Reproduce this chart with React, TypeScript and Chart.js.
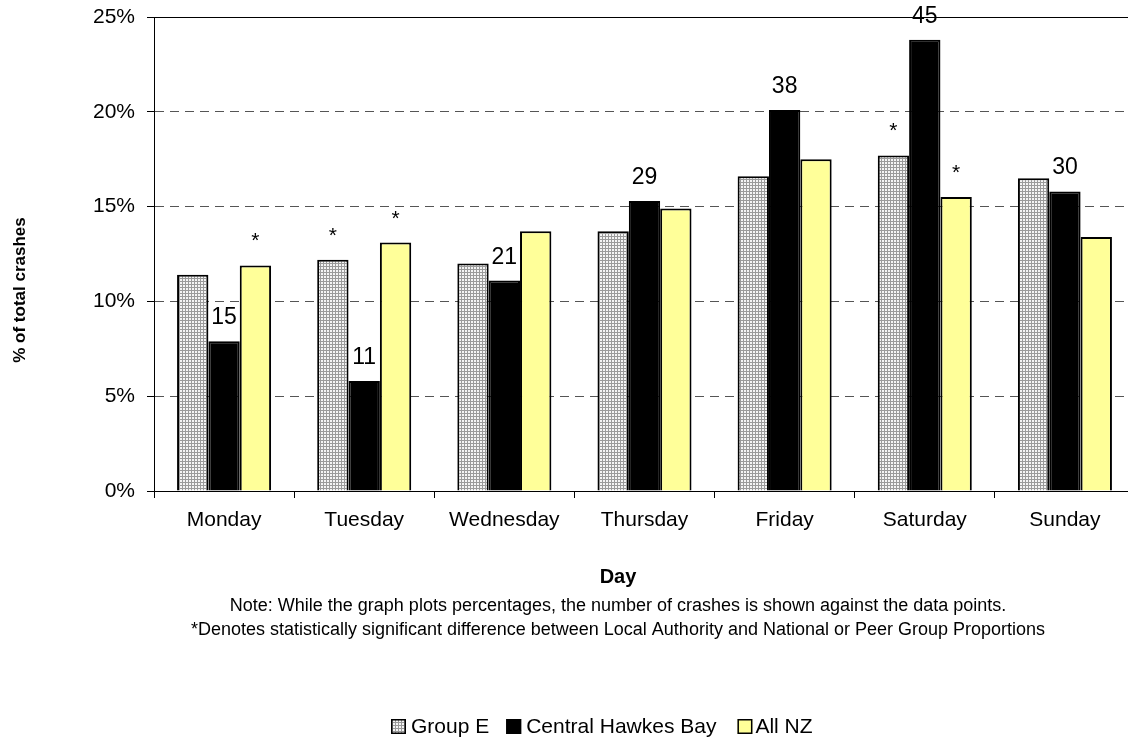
import React, { useEffect, useRef } from 'react';
import { Chart, registerables } from 'chart.js';

Chart.register(...registerables);

const days = ['Monday', 'Tuesday', 'Wednesday', 'Thursday', 'Friday', 'Saturday', 'Sunday'];
const groupE = [11.4, 12.2, 12.0, 13.7, 16.6, 17.7, 16.5];
const centralHawkesBay = [7.9, 5.8, 11.1, 15.3, 20.1, 23.8, 15.8];
const allNZ = [11.9, 13.1, 13.7, 14.9, 17.5, 15.5, 13.4];
const chbCounts = [15, 11, 21, 29, 38, 45, 30];
const groupESignificant = [false, true, false, false, false, true, false];
const allNZSignificant = [true, true, false, false, false, true, false];
const seriesNames = ['Group E', 'Central Hawkes Bay', 'All NZ'];
const yTickMax = 25;
const yTickStep = 5;
const xTitle = 'Day';
const yTitle = '% of total crashes';
const noteLines = [
  'Note: While the graph plots percentages, the number of crashes is shown against the data points.',
  '*Denotes statistically significant difference between Local Authority and National or Peer Group Proportions',
];

const FONT = '"Liberation Sans", Arial, Helvetica, sans-serif';

function makePattern(): CanvasPattern | string {
  const c = document.createElement('canvas');
  c.width = 3;
  c.height = 3;
  const g = c.getContext('2d');
  if (!g) return '#c8c8c8';
  g.fillStyle = '#9a9a9a';
  g.fillRect(0, 0, 3, 3);
  g.fillStyle = '#f4f4f4';
  g.fillRect(0, 0, 2, 2);
  const p = g.createPattern(c, 'repeat');
  return p || '#c8c8c8';
}

export default function App() {
  const canvasRef = useRef<HTMLCanvasElement | null>(null);

  useEffect(() => {
    const canvas = canvasRef.current;
    if (!canvas) return;
    Chart.defaults.font.family = FONT;
    const pattern = makePattern();
    const yellow = '#FFFF99';

    const annotations = {
      id: 'annotations',
      afterDatasetsDraw(chart: any) {
        const ctx = chart.ctx as CanvasRenderingContext2D;
        ctx.save();
        ctx.fillStyle = '#000';
        ctx.textAlign = 'center';
        ctx.textBaseline = 'alphabetic';
        ctx.font = `23px ${FONT}`;
        chart.getDatasetMeta(1).data.forEach((bar: any, i: number) => {
          ctx.fillText(String(chbCounts[i]), bar.x, bar.y - 17);
        });
        ctx.font = `21px ${FONT}`;
        chart.getDatasetMeta(0).data.forEach((bar: any, i: number) => {
          if (groupESignificant[i]) ctx.fillText('*', bar.x, bar.y - 18);
        });
        chart.getDatasetMeta(2).data.forEach((bar: any, i: number) => {
          if (allNZSignificant[i]) ctx.fillText('*', bar.x, bar.y - 18);
        });
        ctx.restore();
      },
      afterDraw(chart: any) {
        const ctx = chart.ctx as CanvasRenderingContext2D;
        ctx.save();
        ctx.fillStyle = '#000';
        // y-axis title
        ctx.save();
        ctx.translate(25, 290);
        ctx.rotate(-Math.PI / 2);
        ctx.textAlign = 'center';
        ctx.textBaseline = 'alphabetic';
        ctx.font = `bold 17px ${FONT}`;
        ctx.fillText(yTitle, 0, 0);
        ctx.restore();

        // x title and notes
        const cx = 618;
        ctx.textAlign = 'center';
        ctx.textBaseline = 'alphabetic';
        ctx.font = `bold 20px ${FONT}`;
        ctx.fillText(xTitle, cx, 583);
        ctx.font = `18px ${FONT}`;
        ctx.fillText(noteLines[0], cx, 611);
        ctx.fillText(noteLines[1], cx, 635);

        // legend
        const fills: (string | CanvasPattern)[] = [pattern, '#000', yellow];
        const gapsAfter = [17, 21, 0];
        ctx.font = `21px ${FONT}`;
        ctx.textAlign = 'left';
        let x = 391;
        const boxTop = 719;
        seriesNames.forEach((name, i) => {
          ctx.fillStyle = fills[i] as any;
          ctx.fillRect(x, boxTop, 15, 15);
          ctx.strokeStyle = '#000';
          ctx.lineWidth = 1.5;
          ctx.strokeRect(x + 0.75, boxTop + 0.75, 13.5, 13.5);
          ctx.fillStyle = '#000';
          const tx = x + (i === 2 ? 18 : 20);
          ctx.fillText(name, tx, 733);
          x = tx + ctx.measureText(name).width + gapsAfter[i];
        });
        ctx.restore();
      },
    };

    const chart = new Chart(canvas, {
      type: 'bar',
      data: {
        labels: days,
        datasets: [
          {
            label: seriesNames[0],
            data: groupE,
            backgroundColor: pattern as any,
            borderColor: '#000',
            borderWidth: 2,
          },
          {
            label: seriesNames[1],
            data: centralHawkesBay,
            backgroundColor: '#000',
            borderColor: '#000',
            borderWidth: 2,
          },
          {
            label: seriesNames[2],
            data: allNZ,
            backgroundColor: yellow,
            borderColor: '#000',
            borderWidth: 2,
          },
        ],
      },
      options: {
        responsive: false,
        animation: false,
        devicePixelRatio: 1,
        layout: { padding: { top: 17, right: 5, left: 0, bottom: 0 } },
        datasets: {
          bar: { categoryPercentage: 0.671, barPercentage: 1 },
        },
        plugins: {
          legend: { display: false },
          tooltip: { enabled: false },
          title: { display: false },
        },
        scales: {
          x: {
            afterFit: (scale: any) => {
              scale.height = 250;
            },
            grid: {
              offset: true,
              drawOnChartArea: false,
              drawTicks: true,
              tickLength: 7,
              tickColor: '#000',
              color: '#000',
            },
            border: { display: true, color: '#000', width: 1 },
            ticks: {
              color: '#000',
              font: { size: 21, family: FONT },
              padding: 10,
              maxRotation: 0,
              autoSkip: false,
            },
          },
          y: {
            min: 0,
            max: yTickMax,
            afterFit: (scale: any) => {
              scale.width = 154;
              scale.paddingTop = 0;
              scale.paddingBottom = 0;
            },
            grid: {
              color: (c: any) =>
                c.tick && c.tick.value === 0
                  ? 'rgba(0,0,0,0)'
                  : c.tick && c.tick.value === yTickMax
                  ? '#000'
                  : '#555',
              lineWidth: 1,
              drawTicks: true,
              tickLength: 7,
              tickColor: '#000',
            },
            border: {
              display: true,
              color: '#000',
              width: 1,
              dash: (c: any) => (c && c.tick && c.tick.value !== yTickMax ? [9, 6] : []),
            },
            ticks: {
              stepSize: yTickStep,
              color: '#000',
              font: { size: 21, family: FONT },
              padding: 12,
              callback: (v: any) => `${v}%`,
            },
          },
        },
      },
      plugins: [annotations],
    } as any);

    return () => {
      chart.destroy();
    };
  }, []);

  return (
    <div
      style={{
        position: 'absolute',
        left: 0,
        top: 0,
        width: 1128,
        height: 741,
        overflow: 'hidden',
        background: '#fff',
      }}
    >
      <canvas ref={canvasRef} width={1140} height={741} style={{ display: 'block', width: 1140, height: 741 }} />
    </div>
  );
}
